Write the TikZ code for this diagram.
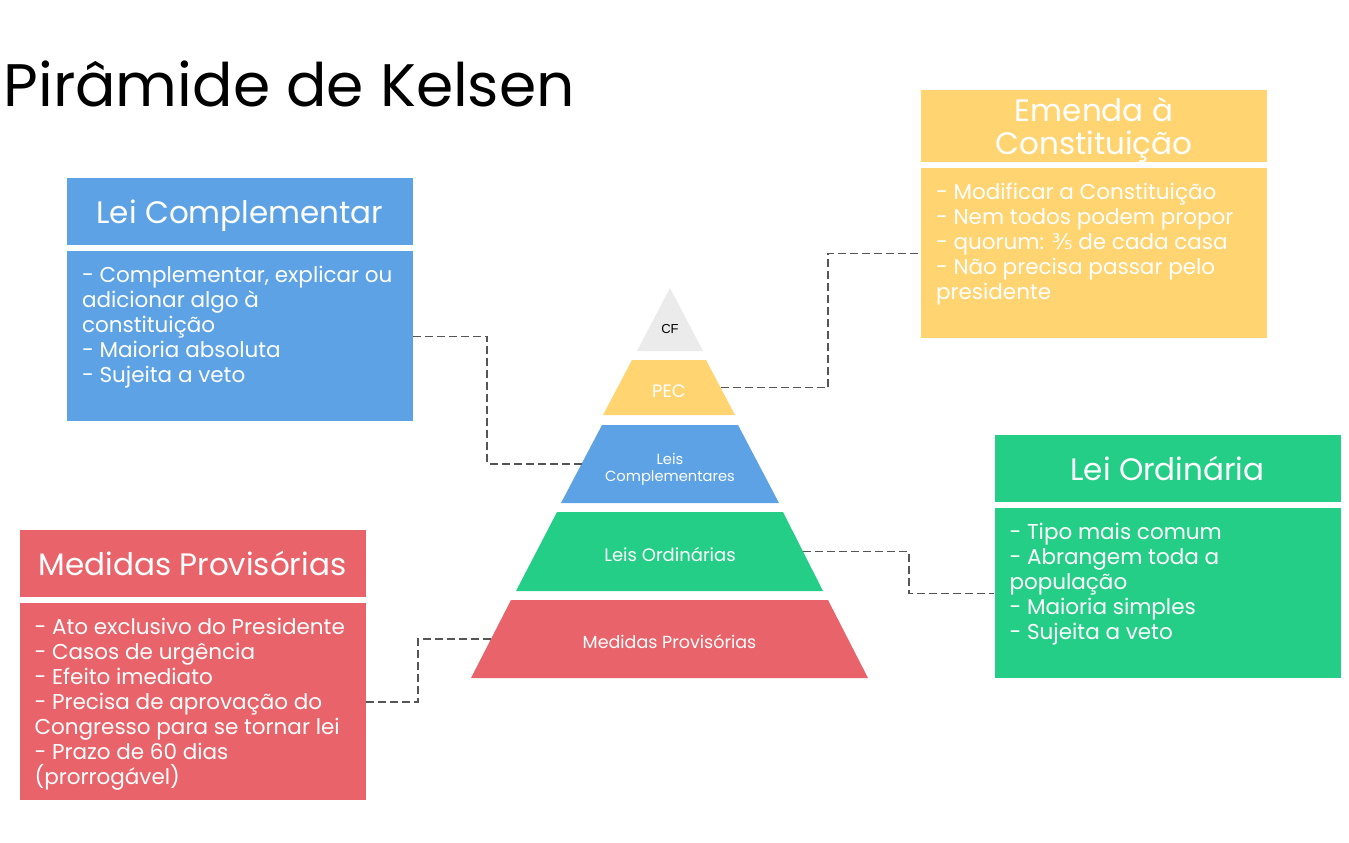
\documentclass[tikz,border=0pt]{standalone}
\usepackage{fontspec}
\setmainfont{Poppins}
\newfontfamily\arialfont{Liberation Sans}
\newfontfamily\symfont{DejaVu Sans}
\usetikzlibrary{positioning}
\definecolor{lcblue}{HTML}{5DA2E5}
\definecolor{emyellow}{HTML}{FFD471}
\definecolor{logreen}{HTML}{25CE87}
\definecolor{mpred}{HTML}{E9636A}
\definecolor{cfgray}{HTML}{EBEBEB}
\definecolor{linkgray}{HTML}{555555}

\begin{document}
\begin{tikzpicture}[x=1pt,y=-1pt]
\tikzset{head/.style = {rectangle, minimum width=346pt, minimum height=67pt, inner sep=0pt, text depth=0pt, text=white, align=center, font=\fontsize{31}{33}\selectfont}}
\tikzset{body/.style = {rectangle, minimum width=346pt, minimum height=170pt, inner sep=0pt}}
\tikzset{bodytext/.style = {anchor=north west, align=left, inner sep=0pt, text=white, font=\fontsize{21.5}{25}\selectfont}}
\tikzset{bandtext/.style = {inner sep=0pt, text=white, align=center}}
\tikzset{link/.style = {draw=linkgray, line width=1.6pt, dash pattern=on 8pt off 4pt}}
\useasboundingbox (0,0) rectangle (1349,843);

\node[anchor=base west, font=\fontsize{60}{66}\selectfont] (title) at (0,106) {Pirâmide de Kelsen};

% pyramid
\fill[cfgray] (670,288) -- (703,351) -- (637,351) -- cycle;
\node[font=\arialfont\fontsize{13}{15}\selectfont] (cf) at (670,329) {CF};
\fill[emyellow] (632,360) -- (706,360) -- (735,415) -- (603,415) -- cycle;
\node[bandtext, font=\fontsize{18}{20}\selectfont] (pec) at (669,391) {PEC};
\coordinate (pecR) at (720.5,387.5);
\fill[lcblue] (602,425) -- (738,425) -- (779,503) -- (561,503) -- cycle;
\node[bandtext, font=\fontsize{14.7}{17}\selectfont] (lc) at (670,469) {Leis\\Complementares};
\coordinate (lcL) at (581.5,464);
\fill[logreen] (557,512) -- (783,512) -- (823,591) -- (516,591) -- cycle;
\node[bandtext, font=\fontsize{18}{20}\selectfont] (lo) at (670,555) {Leis Ordinárias};
\coordinate (loR) at (803,551.5);
\fill[mpred] (511,600) -- (828,600) -- (868,678) -- (471,678) -- cycle;
\node[bandtext, font=\fontsize{17.5}{20}\selectfont] (mp) at (669.5,642) {Medidas Provisórias};
\coordinate (mpL) at (491,639);

% boxes
\node[head, fill=lcblue] (lcH) at (240,211.5) {Lei Complementar};
\node[body, fill=lcblue, below=6pt of lcH] (lcB) {};
\node[bodytext] (lcT) at ([shift={(15pt,-14.5pt)}]lcB.north west) {- Complementar, explicar ou\\adicionar algo à\\constituição\\- Maioria absoluta\\- Sujeita a veto};

\node[head, fill=emyellow, minimum height=72pt] (ecH) at (1094,126) {Emenda à\\Constituição};
\node[body, fill=emyellow, below=6pt of ecH] (ecB) {};
\node[bodytext] (ecT) at ([shift={(15pt,-14.5pt)}]ecB.north west) {- Modificar a Constituição\\- Nem todos podem propor\\- quorum: {\symfont ⅗} de cada casa\\- Não precisa passar pelo\\presidente};

\node[head, fill=logreen] (loH) at (1167.5,468.5) {Lei Ordinária};
\node[body, fill=logreen, below=6pt of loH] (loB) {};
\node[bodytext] (loT) at ([shift={(15pt,-14.5pt)}]loB.north west) {- Tipo mais comum\\- Abrangem toda a\\população\\- Maioria simples\\- Sujeita a veto};

\node[head, fill=mpred] (mpH) at (192.5,563.5) {Medidas Provisórias};
\node[body, fill=mpred, minimum height=197pt, below=6pt of mpH] (mpB) {};
\node[bodytext] (mpT) at ([shift={(15pt,-14.5pt)}]mpB.north west) {- Ato exclusivo do Presidente\\- Casos de urgência\\- Efeito imediato\\- Precisa de aprovação do\\Congresso para se tornar lei\\- Prazo de 60 dias\\(prorrogável)};

% links
\draw[link] (lcB.east) -- ++(74,0) |- (lcL);
\draw[link] (pecR) -- ++(107.5,0) |- (ecB.west);
\draw[link] (loR) -- ++(106,0) |- (loB.west);
\draw[link] (mpB.east) -- ++(52,0) |- (mpL);
\end{tikzpicture}
\end{document}
